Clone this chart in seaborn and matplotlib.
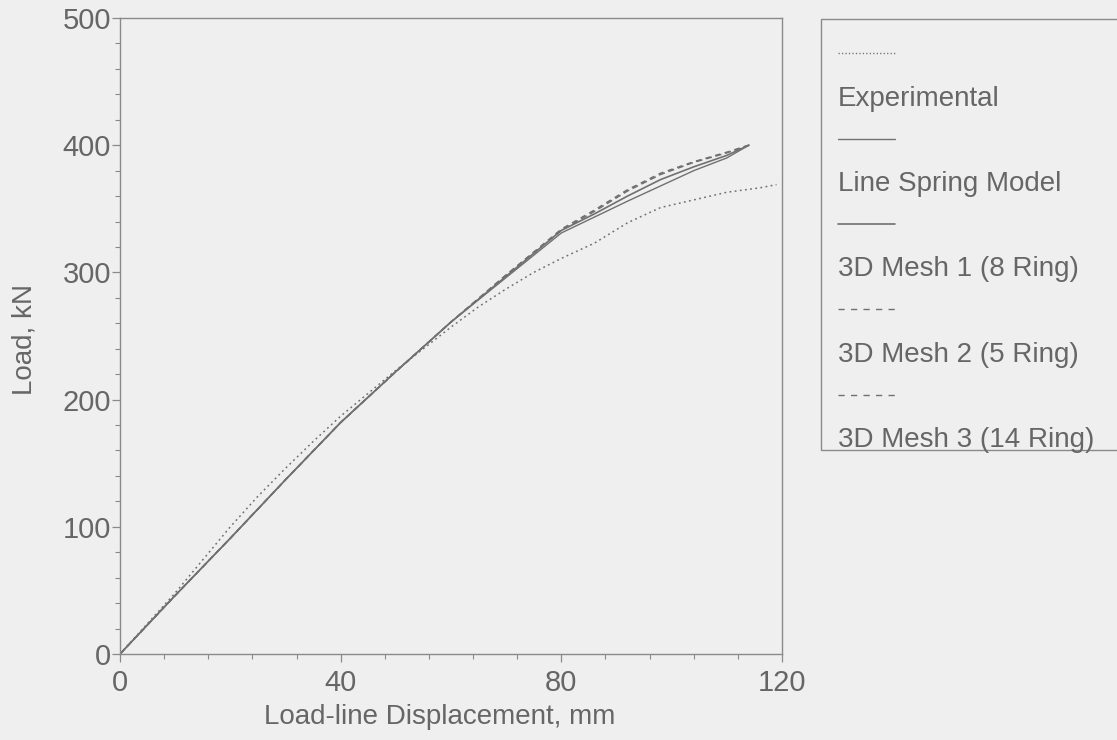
import matplotlib
matplotlib.use("Agg")
import numpy as np
import pandas as pd
import seaborn as sns
import matplotlib.pyplot as plt
from matplotlib.lines import Line2D
from matplotlib.legend_handler import HandlerBase
from matplotlib.patches import Rectangle
from matplotlib.ticker import MultipleLocator

# ---------------- data ----------------
exp_x = [0, 5, 10, 15, 20, 25, 30, 35, 40, 45, 50, 55, 60, 65, 70, 75, 80, 86, 92, 98, 104, 110, 116, 119]
exp_y = [0, 24, 48, 74, 100, 124, 146, 167, 187, 205, 223, 240, 257, 273, 287, 300, 311, 323, 339, 351, 357, 363, 366.5, 369]

lsm_x = [0, 10, 20, 30, 40, 50, 60, 70, 80, 86, 92, 98, 104, 110, 114]
lsm_y = [0, 46, 91, 137, 182, 222, 261, 296, 331, 343.5, 356, 368, 380, 390, 400]

m1_x = [0, 10, 20, 30, 40, 50, 60, 70, 80, 86, 92, 98, 104, 110, 114]
m1_y = [0, 46, 91, 137, 182, 222, 261, 297, 333, 346, 360, 373, 383, 392, 400]

m2_x = [0, 10, 20, 30, 40, 50, 60, 70, 80, 86, 92, 98, 104, 110, 114]
m2_y = [0, 46, 91, 137, 182, 222, 261, 298, 333, 348, 364, 377, 386.5, 394, 400]

m3_x = [0, 10, 20, 30, 40, 50, 60, 70, 80, 86, 92, 98, 104, 110, 114]
m3_y = [0, 46, 91, 137, 182, 222, 261, 298, 334, 349, 365, 378, 387, 394.5, 400]

labels = ["Experimental", "Line Spring Model", "3D Mesh 1 (8 Ring)",
          "3D Mesh 2 (5 Ring)", "3D Mesh 3 (14 Ring)"]
x_ticks = [0, 40, 80, 120]
y_ticks = [0, 100, 200, 300, 400, 500]

# ---------------- styling ----------------
BG = "#efefef"
TXT = "#666666"
LINE = "#707070"
SPINE = "#8a8a8a"

sns.set_theme(style="ticks")
plt.rcParams["font.family"] = ["Liberation Sans", "DejaVu Sans"]

W, H = 1117, 740
fig = plt.figure(figsize=(W / 100, H / 100), dpi=100, facecolor=BG)
ax = fig.add_axes([120 / W, 1 - 654 / H, 662 / W, 636 / H])
ax.set_facecolor(BG)

styles = [
    dict(linestyle=(0, (1.2, 2.2)), linewidth=1.1),
    dict(linestyle="-", linewidth=1.0),
    dict(linestyle="-", linewidth=1.2),
    dict(linestyle=(0, (4, 2.5)), linewidth=1.1),
    dict(linestyle=(0, (3.5, 3)), linewidth=1.1),
]
series = [(exp_x, exp_y), (lsm_x, lsm_y), (m1_x, m1_y), (m2_x, m2_y), (m3_x, m3_y)]

for (xs, ys), st in zip(series, styles):
    df = pd.DataFrame({"x": xs, "y": ys})
    sns.lineplot(data=df, x="x", y="y", ax=ax, color=LINE, sort=False,
                 estimator=None, legend=False, **st)

ax.set_xlim(0, 120)
ax.set_ylim(0, 500)
ax.set_xticks(x_ticks)
ax.set_yticks(y_ticks)
ax.xaxis.set_minor_locator(MultipleLocator(8))
ax.yaxis.set_minor_locator(MultipleLocator(20))

for s in ax.spines.values():
    s.set_visible(True)
    s.set_color(SPINE)
    s.set_linewidth(1.0)

ax.tick_params(which="major", direction="out", length=6, width=0.9, color=SPINE,
               labelsize=21, labelcolor=TXT)
ax.tick_params(which="minor", direction="out", length=3.6, width=0.8, color=SPINE)
ax.tick_params(axis="y", which="major", pad=0.5)
ax.tick_params(axis="x", which="major", pad=5)

ax.set_xlabel("Load-line Displacement, mm", fontsize=20, color=TXT)
ax.set_ylabel("Load, kN", fontsize=20, color=TXT)
ax.xaxis.set_label_coords(0.483, -0.079)
ax.yaxis.set_label_coords(-0.124, 0.495)


# ---------------- legend: line sample row above each label row ----------------
class RowLine(HandlerBase):
    def legend_artist(self, legend, orig_handle, fontsize, handlebox):
        h = handlebox.height
        ln = Line2D([0, 41], [h / 2, h / 2])
        ln.update_from(orig_handle)
        ln.set_data([0, 41], [h / 2, h / 2])
        if orig_handle.get_linestyle() in ("None", "none", " ", ""):
            ln.set_visible(False)
        handlebox.add_artist(ln)
        return ln


leg_styles = [
    dict(linestyle=(0, (0.9, 1.6)), linewidth=1.0),
    dict(linestyle="-", linewidth=1.0),
    dict(linestyle="-", linewidth=1.2),
    dict(linestyle=(0, (4.5, 4.5)), linewidth=1.0),
    dict(linestyle=(0, (4.5, 4.5)), linewidth=1.0),
]
handles, texts = [], []
for st, lab in zip(leg_styles, labels):
    handles.append(Line2D([], [], color=LINE, **st))
    texts.append("")
    handles.append(Line2D([], [], linestyle="None"))
    texts.append(lab)

fig.legend(handles, texts, loc="upper left", bbox_to_anchor=(838 / W, 1 - 43 / H),
           frameon=False, handlelength=0, handletextpad=0, borderpad=0,
           borderaxespad=0, labelspacing=0.6, fontsize=20, labelcolor=TXT,
           handler_map={Line2D: RowLine()})

fig.add_artist(Rectangle((821 / W, 1 - 450 / H), 300 / W, 431 / H,
                         transform=fig.transFigure, fill=False,
                         edgecolor=SPINE, linewidth=1.0))

fig.savefig("out.png", dpi=100, facecolor=BG)
